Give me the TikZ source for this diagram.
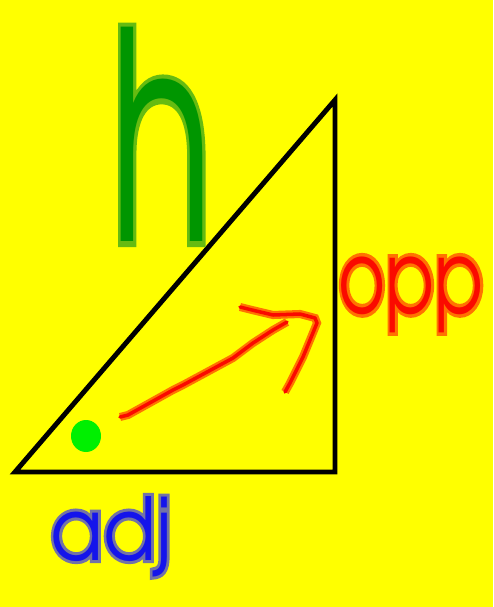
\documentclass[tikz,border=0pt]{standalone}
\usepackage{fontspec}
\usepackage{graphicx}
\usetikzlibrary{positioning}
\newfontfamily\handfont{texgyreadventor-regular.otf}
\newfontfamily\handhalo[RawFeature={embolden=7}]{texgyreadventor-regular.otf}
\newfontfamily\handhalobig[RawFeature={embolden=3.5}]{texgyreadventor-regular.otf}
\definecolor{paper}{RGB}{255,255,0}
\definecolor{hgreen}{RGB}{0,150,0}
\definecolor{hgreenhalo}{RGB}{102,187,17}
\definecolor{penred}{RGB}{250,10,0}
\definecolor{penorange}{RGB}{255,115,0}
\definecolor{adjblue}{RGB}{20,20,235}
\definecolor{adjhalo}{RGB}{115,115,165}
\definecolor{dotgreen}{RGB}{0,240,0}
\begin{document}
\begin{tikzpicture}[
  x=0.02cm, y=-0.02cm,
  tri/.style={draw=black, line width=2.8pt, line join=miter},
  pen/.style={draw=penred, line width=2pt, line cap=round, line join=round, preaction={draw=penorange, line width=4.6pt}},
  word/.style={inner sep=0pt, anchor=base west},
  hword/.style={word, font=\handfont\fontsize{96}{96}\selectfont},
  hhalo/.style={word, font=\handhalobig\fontsize{96}{96}\selectfont},
  sideword/.style={word, font=\handfont\fontsize{50}{50}\selectfont},
  sidehalo/.style={word, font=\handhalo\fontsize{50}{50}\selectfont},
  baseword/.style={word, font=\handfont\fontsize{44}{44}\selectfont},
  basehalo/.style={word, font=\handhalo\fontsize{44}{44}\selectfont}
]
\fill[paper] (0,0) rectangle (493,607);
\useasboundingbox (0,0) rectangle (493,607);
\coordinate (A) at (15,472);
\coordinate (B) at (335,472);
\coordinate (C) at (335,100);
\draw[tri] (A) -- (B) -- (C) -- cycle;
\fill[dotgreen] (86,436) ellipse [x radius=0.3cm, y radius=0.32cm];
% arrow
\coordinate (tail) at (120,417);
\coordinate (tip) at (315,318);
\draw[pen] (tail) -- (128,415) -- (173,390) -- (183,385) -- (233,358) -- (253,343) -- (273,330) -- (287,322);
\draw[pen] (240,307) -- (252,310) -- (273,315) -- (300,314) -- (tip) -- (317,323) -- (303,357) -- (290,383) -- (285,392);
% labels
\node[hhalo, text=hgreenhalo] (hback) at (110,242) {\scalebox{1}[1.72]{h}};
\node[hword, text=hgreen] (hyp) at (110,242) {\scalebox{1}[1.72]{h}};
\node[sidehalo, text=penorange] (oppback) at (338,313) {\scalebox{0.82}[1.15]{opp}};
\node[sideword, text=penred] (opp) at (338,313) {\scalebox{0.82}[1.15]{opp}};
\node[basehalo, text=adjhalo] (adjback) at (50,560) {\scalebox{1}[1.12]{adj}};
\node[baseword, text=adjblue] (adj) at (50,560) {\scalebox{1}[1.12]{adj}};
\end{tikzpicture}
\end{document}
